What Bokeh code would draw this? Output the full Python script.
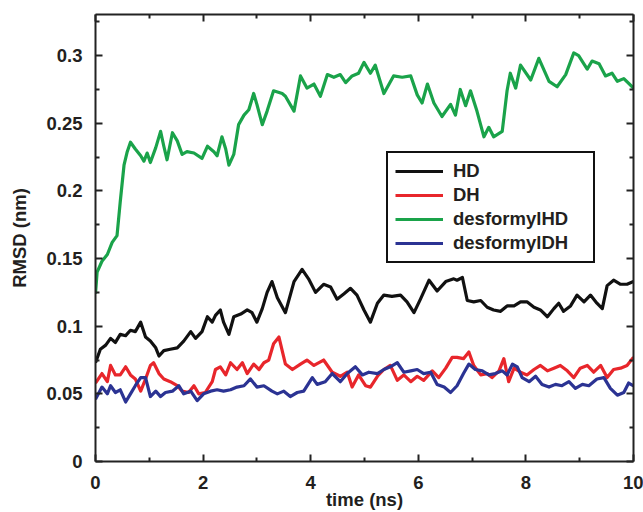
from bokeh.plotting import figure
from bokeh.models import LinearAxis, FixedTicker, CustomJSTickFormatter, Legend, LegendItem, Range1d
from bokeh.embed import file_html
from bokeh.resources import INLINE

# ---- data ----
hd_t = [0.00, 0.09, 0.19, 0.28, 0.37, 0.46, 0.56, 0.65, 0.74, 0.84, 0.93, 1.02, 1.12, 1.18, 1.27, 1.39,
        1.52, 1.64, 1.77, 1.86, 1.98, 2.08, 2.17, 2.23, 2.32, 2.38, 2.48, 2.57, 2.70, 2.82, 2.91, 3.00,
        3.10, 3.19, 3.28, 3.38, 3.53, 3.69, 3.84, 3.96, 4.09, 4.24, 4.37, 4.49, 4.62, 4.74, 4.86, 4.99,
        5.11, 5.24, 5.36, 5.51, 5.67, 5.79, 5.92, 6.04, 6.20, 6.35, 6.51, 6.66, 6.72, 6.82, 6.91, 7.03,
        7.16, 7.28, 7.40, 7.53, 7.65, 7.78, 7.90, 8.02, 8.15, 8.27, 8.40, 8.52, 8.61, 8.70, 8.83, 8.95,
        9.08, 9.20, 9.32, 9.42, 9.51, 9.63, 9.76, 9.88, 10.00]
hd_v = [0.073, 0.083, 0.086, 0.091, 0.088, 0.094, 0.093, 0.097, 0.096, 0.103, 0.092, 0.089, 0.084, 0.078, 0.082, 0.083,
        0.084, 0.089, 0.096, 0.091, 0.096, 0.107, 0.103, 0.108, 0.112, 0.103, 0.094, 0.107, 0.109, 0.112, 0.110, 0.103,
        0.113, 0.125, 0.133, 0.121, 0.110, 0.133, 0.142, 0.135, 0.125, 0.131, 0.129, 0.120, 0.124, 0.128, 0.123, 0.112,
        0.103, 0.117, 0.123, 0.122, 0.123, 0.118, 0.110, 0.120, 0.134, 0.126, 0.133, 0.135, 0.134, 0.136, 0.119, 0.118,
        0.119, 0.114, 0.112, 0.111, 0.115, 0.115, 0.118, 0.118, 0.114, 0.112, 0.107, 0.113, 0.117, 0.111, 0.115, 0.123,
        0.118, 0.123, 0.117, 0.113, 0.130, 0.134, 0.131, 0.131, 0.133]

dh_t = [0.00, 0.12, 0.22, 0.28, 0.37, 0.46, 0.56, 0.65, 0.74, 0.84, 0.93, 1.02, 1.08, 1.18, 1.27, 1.39,
        1.52, 1.61, 1.73, 1.83, 1.92, 2.04, 2.17, 2.23, 2.32, 2.42, 2.51, 2.63, 2.73, 2.82, 2.94, 3.04,
        3.13, 3.22, 3.31, 3.41, 3.53, 3.66, 3.81, 3.93, 4.06, 4.24, 4.40, 4.55, 4.68, 4.77, 4.89, 5.02,
        5.11, 5.24, 5.36, 5.48, 5.61, 5.73, 5.86, 5.98, 6.10, 6.26, 6.38, 6.51, 6.63, 6.72, 6.84, 6.94,
        7.03, 7.16, 7.28, 7.37, 7.50, 7.59, 7.68, 7.78, 7.90, 8.02, 8.15, 8.27, 8.40, 8.52, 8.64, 8.77,
        8.89, 9.01, 9.14, 9.26, 9.39, 9.51, 9.63, 9.76, 9.88, 10.00]
dh_v = [0.058, 0.065, 0.059, 0.071, 0.064, 0.064, 0.070, 0.064, 0.061, 0.052, 0.061, 0.071, 0.073, 0.065, 0.061, 0.059,
        0.056, 0.052, 0.051, 0.056, 0.050, 0.051, 0.059, 0.068, 0.070, 0.064, 0.073, 0.068, 0.073, 0.065, 0.072, 0.068,
        0.073, 0.075, 0.087, 0.092, 0.072, 0.068, 0.072, 0.075, 0.071, 0.075, 0.066, 0.063, 0.066, 0.055, 0.064, 0.056,
        0.055, 0.063, 0.068, 0.071, 0.060, 0.064, 0.059, 0.063, 0.060, 0.067, 0.062, 0.069, 0.077, 0.077, 0.076, 0.081,
        0.071, 0.064, 0.065, 0.062, 0.067, 0.076, 0.059, 0.069, 0.066, 0.064, 0.068, 0.071, 0.067, 0.069, 0.071, 0.067,
        0.062, 0.069, 0.071, 0.066, 0.071, 0.062, 0.068, 0.069, 0.071, 0.077]

dfhd_t = [0.00, 0.03, 0.12, 0.22, 0.31, 0.40, 0.46, 0.53, 0.59, 0.65, 0.74, 0.84, 0.90, 0.96, 1.02, 1.12,
          1.21, 1.27, 1.33, 1.43, 1.52, 1.61, 1.70, 1.83, 1.98, 2.08, 2.20, 2.26, 2.35, 2.42, 2.48, 2.57,
          2.66, 2.76, 2.85, 2.94, 3.00, 3.10, 3.19, 3.31, 3.47, 3.53, 3.69, 3.81, 3.93, 4.06, 4.18, 4.31,
          4.43, 4.55, 4.65, 4.77, 4.89, 4.99, 5.11, 5.20, 5.36, 5.54, 5.70, 5.86, 5.98, 6.07, 6.17, 6.29,
          6.44, 6.60, 6.69, 6.78, 6.88, 6.97, 7.09, 7.22, 7.31, 7.40, 7.56, 7.65, 7.71, 7.81, 7.90, 8.09,
          8.24, 8.43, 8.58, 8.74, 8.89, 8.98, 9.14, 9.23, 9.36, 9.48, 9.60, 9.70, 9.82, 10.00]
dfhd_v = [0.124, 0.140, 0.148, 0.153, 0.162, 0.167, 0.192, 0.219, 0.229, 0.236, 0.231, 0.226, 0.222, 0.228, 0.221, 0.232,
          0.244, 0.233, 0.223, 0.243, 0.237, 0.227, 0.229, 0.228, 0.224, 0.233, 0.229, 0.226, 0.240, 0.231, 0.219, 0.227,
          0.249, 0.256, 0.260, 0.272, 0.264, 0.249, 0.259, 0.274, 0.272, 0.270, 0.259, 0.285, 0.276, 0.279, 0.270, 0.286,
          0.284, 0.286, 0.280, 0.285, 0.287, 0.295, 0.287, 0.293, 0.272, 0.285, 0.284, 0.285, 0.271, 0.265, 0.279, 0.265,
          0.255, 0.264, 0.256, 0.275, 0.263, 0.274, 0.259, 0.240, 0.247, 0.240, 0.244, 0.274, 0.287, 0.276, 0.293, 0.282,
          0.298, 0.281, 0.277, 0.286, 0.302, 0.300, 0.290, 0.296, 0.294, 0.285, 0.287, 0.281, 0.283, 0.276]

dfdh_t = [0.00, 0.12, 0.22, 0.28, 0.37, 0.46, 0.56, 0.65, 0.74, 0.84, 0.93, 1.02, 1.12, 1.21, 1.30, 1.43,
          1.55, 1.64, 1.77, 1.89, 2.01, 2.14, 2.26, 2.38, 2.51, 2.63, 2.76, 2.88, 3.00, 3.13, 3.28, 3.38,
          3.50, 3.62, 3.75, 3.87, 4.03, 4.12, 4.27, 4.40, 4.55, 4.68, 4.83, 4.96, 5.08, 5.24, 5.36, 5.48,
          5.61, 5.73, 5.86, 5.98, 6.10, 6.23, 6.35, 6.48, 6.60, 6.72, 6.84, 6.94, 7.06, 7.19, 7.31, 7.43,
          7.56, 7.65, 7.75, 7.84, 7.93, 8.06, 8.18, 8.30, 8.43, 8.55, 8.67, 8.80, 8.92, 9.05, 9.17, 9.32,
          9.45, 9.57, 9.70, 9.82, 9.91, 10.00]
dfdh_v = [0.046, 0.055, 0.050, 0.056, 0.051, 0.053, 0.044, 0.050, 0.056, 0.062, 0.062, 0.048, 0.052, 0.048, 0.051, 0.052,
          0.056, 0.050, 0.052, 0.045, 0.050, 0.052, 0.053, 0.052, 0.053, 0.055, 0.056, 0.061, 0.055, 0.056, 0.052, 0.050,
          0.052, 0.048, 0.051, 0.052, 0.062, 0.057, 0.059, 0.065, 0.059, 0.065, 0.070, 0.064, 0.066, 0.065, 0.068, 0.070,
          0.073, 0.066, 0.067, 0.068, 0.065, 0.066, 0.057, 0.055, 0.051, 0.056, 0.065, 0.072, 0.068, 0.067, 0.064, 0.065,
          0.067, 0.064, 0.072, 0.070, 0.062, 0.059, 0.063, 0.057, 0.055, 0.057, 0.056, 0.059, 0.054, 0.057, 0.056, 0.061,
          0.062, 0.054, 0.049, 0.051, 0.058, 0.056]

series_names = ["HD", "DH", "desformylHD", "desformylDH"]
series_colors = ["#111111", "#e8262b", "#1aa34a", "#2b3393"]
x_ticks = [0, 2, 4, 6, 8, 10]
x_minor = [1, 3, 5, 7, 9]
y_ticks = [0, 0.05, 0.1, 0.15, 0.2, 0.25, 0.3]
y_minor = [0.025, 0.075, 0.125, 0.175, 0.225, 0.275, 0.325]

FONT = "Liberation Sans"
FSIZE = "18.5px"

p = figure(width=643, height=512, output_backend="svg", toolbar_location=None,
           x_range=Range1d(0, 10), y_range=Range1d(0, 0.3304),
           min_border_left=95, min_border_right=10, min_border_top=14, min_border_bottom=51,
           x_axis_label="time (ns)", y_axis_label="RMSD (nm)")
p.outline_line_color = None
p.xgrid.visible = False
p.ygrid.visible = False
p.background_fill_color = "white"

fmt = CustomJSTickFormatter(code="return Number(tick.toFixed(3)).toString();")
blank = CustomJSTickFormatter(code="return '';")

def style_axis(ax, labels=True):
    ax.axis_line_width = 2
    ax.axis_line_color = "#222222"
    ax.major_tick_line_width = 2
    ax.minor_tick_line_width = 2
    ax.major_tick_line_color = "#222222"
    ax.minor_tick_line_color = "#222222"
    ax.major_tick_in = 7
    ax.major_tick_out = 0
    ax.minor_tick_in = 4
    ax.minor_tick_out = 0
    ax.major_label_text_font = FONT
    ax.major_label_text_font_style = "bold"
    ax.major_label_text_font_size = FSIZE
    ax.major_label_text_color = "#231f20"
    ax.axis_label_text_font = FONT
    ax.axis_label_text_font_style = "bold"
    ax.axis_label_text_font_size = FSIZE
    ax.axis_label_text_color = "#231f20"
    if not labels:
        ax.formatter = blank
        ax.major_label_text_font_size = "0px"
        ax.major_label_standoff = 0

for ax in p.xaxis:
    ax.ticker = FixedTicker(ticks=x_ticks, minor_ticks=x_minor)
    ax.formatter = fmt
    style_axis(ax)
    ax.major_label_standoff = 14
    ax.axis_label_standoff = -3
for ax in p.yaxis:
    ax.ticker = FixedTicker(ticks=y_ticks, minor_ticks=y_minor)
    ax.formatter = fmt
    style_axis(ax)
    ax.major_label_standoff = 13
    ax.axis_label_standoff = 13

top = LinearAxis(ticker=FixedTicker(ticks=x_ticks, minor_ticks=x_minor))
style_axis(top, labels=False)
p.add_layout(top, "above")
right = LinearAxis(ticker=FixedTicker(ticks=y_ticks, minor_ticks=y_minor))
style_axis(right, labels=False)
p.add_layout(right, "right")

renderers = []
for (t, v), c in zip([(hd_t, hd_v), (dh_t, dh_v), (dfhd_t, dfhd_v), (dfdh_t, dfdh_v)], series_colors):
    r = p.line(t, v, line_color=c, line_width=3.2, line_join="round")
    renderers.append(r)

legend = Legend(items=[LegendItem(label=n, renderers=[r]) for n, r in zip(series_names, renderers)],
                location=(291, 198))
legend.border_line_color = "#111111"
legend.border_line_alpha = 1
legend.border_line_width = 2
legend.background_fill_color = "white"
legend.background_fill_alpha = 1
legend.padding = 7
legend.spacing = 2
legend.margin = 0
legend.glyph_width = 48
legend.glyph_height = 20
legend.label_height = 20
legend.label_width = 133
legend.label_standoff = 10
legend.label_text_font = FONT
legend.label_text_font_style = "bold"
legend.label_text_font_size = FSIZE
legend.label_text_color = "#231f20"
p.add_layout(legend, "center")

open("out.html", "w").write(file_html(p, INLINE))
